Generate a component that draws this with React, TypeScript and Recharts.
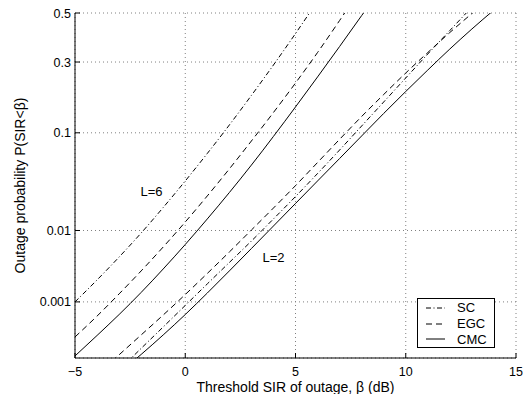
import React from 'react';
import { LineChart, Line, XAxis, YAxis, CartesianGrid, Legend, ReferenceDot } from 'recharts';

const FONT = '"Liberation Sans", Arial, Helvetica, sans-serif';

// ---- data (outage probability) ----
const betaL6SC = [-5, -4, -3, -2, -1, 0, 1, 2, 3, 4, 5, 6];
const pL6SC = [0.001, 0.00215, 0.00452, 0.0093, 0.01874, 0.0362, 0.0665, 0.1155, 0.189, 0.289, 0.413, 0.551];

const betaL6EGC = [-5, -4, -3, -2, -1, 0, 1, 2, 3, 4, 5, 6, 7, 8];
const pL6EGC = [2.65e-4, 5.94e-4, 1.33e-3, 2.9e-3, 6.16e-3, 0.01269, 0.0252, 0.0477, 0.0855, 0.1436, 0.2269, 0.3363, 0.468, 0.6075];

const betaL6CMC = [-5, -4, -3, -2, -1, 0, 1, 2, 3, 4, 5, 6, 7, 8, 9];
const pL6CMC = [1.22e-4, 2.81e-4, 6.29e-4, 1.4e-3, 3.09e-3, 6.64e-3, 0.0138, 0.0274, 0.0519, 0.0934, 0.1575, 0.247, 0.36, 0.489, 0.62];

const betaL2SC = [-3, -2, -1, 0, 1, 2, 3, 4, 5, 6, 7, 8, 9, 10, 11, 12, 13];
const pL2SC = [6.7e-5, 1.67e-4, 3.92e-4, 8.8e-4, 1.88e-3, 3.81e-3, 7.36e-3, 0.0138, 0.0248, 0.043, 0.0714, 0.1134, 0.1706, 0.2436, 0.3305, 0.4258, 0.5256];

const betaL2EGC = [-4, -3, -2, -1, 0, 1, 2, 3, 4, 5, 6, 7, 8, 9, 10, 11, 12, 13, 14];
const pL2EGC = [5.4e-5, 1.28e-4, 2.87e-4, 6.18e-4, 1.3e-3, 2.67e-3, 5.29e-3, 0.01013, 0.01848, 0.0324, 0.0549, 0.0883, 0.1342, 0.1917, 0.2605, 0.3363, 0.4174, 0.4979, 0.578];

const betaL2CMC = [-3, -2, -1, 0, 1, 2, 3, 4, 5, 6, 7, 8, 9, 10, 11, 12, 13, 14, 15];
const pL2CMC = [5.9e-5, 1.3e-4, 2.87e-4, 6.29e-4, 1.37e-3, 2.9e-3, 5.88e-3, 0.01135, 0.0208, 0.0362, 0.0598, 0.0942, 0.1413, 0.2006, 0.271, 0.3501, 0.4321, 0.5128, 0.589];

const xTicks = [-5, 0, 5, 10, 15];
const xTickLabels = ['\u22125', '0', '5', '10', '15'];
const yTickP = [0.001, 0.01, 0.1, 0.3, 0.5];
const yTickLabels = ['0.001', '0.01', '0.1', '0.3', '0.5'];
const yBottomP = 1.12e-4;
const yTopP = 0.5;

const legendNames = ['SC', 'EGC', 'CMC'];

// ---- normal probability (probit) axis transform ----
function probit(p: number): number {
  const a = [-3.969683028665376e1, 2.209460984245205e2, -2.759285104469687e2, 1.38357751867269e2, -3.066479806614716e1, 2.506628277459239];
  const b = [-5.447609879822406e1, 1.615858368580409e2, -1.556989798598866e2, 6.680131188771972e1, -1.328068155288572e1];
  const c = [-7.784894002430293e-3, -3.223964580411365e-1, -2.400758277161838, -2.549732539343734, 4.374664141464968, 2.938163982698783];
  const d = [7.784695709041462e-3, 3.224671290700398e-1, 2.445134137142996, 3.754408661907416];
  const pLow = 0.02425;
  const pHigh = 1 - pLow;
  if (p < pLow) {
    const q = Math.sqrt(-2 * Math.log(p));
    return (((((c[0] * q + c[1]) * q + c[2]) * q + c[3]) * q + c[4]) * q + c[5]) / ((((d[0] * q + d[1]) * q + d[2]) * q + d[3]) * q + 1);
  }
  if (p <= pHigh) {
    const q = p - 0.5;
    const r = q * q;
    return ((((((a[0] * r + a[1]) * r + a[2]) * r + a[3]) * r + a[4]) * r + a[5]) * q) / (((((b[0] * r + b[1]) * r + b[2]) * r + b[3]) * r + b[4]) * r + 1);
  }
  const q = Math.sqrt(-2 * Math.log(1 - p));
  return -(((((c[0] * q + c[1]) * q + c[2]) * q + c[3]) * q + c[4]) * q + c[5]) / ((((d[0] * q + d[1]) * q + d[2]) * q + d[3]) * q + 1);
}

const build = (xs: number[], ps: number[]) => xs.map((x, i) => ({ x, y: probit(ps[i]) }));

const dL6SC = build(betaL6SC, pL6SC);
const dL6EGC = build(betaL6EGC, pL6EGC);
const dL6CMC = build(betaL6CMC, pL6CMC);
const dL2SC = build(betaL2SC, pL2SC);
const dL2EGC = build(betaL2EGC, pL2EGC);
const dL2CMC = build(betaL2CMC, pL2CMC);

const yTicks = yTickP.map(probit);
const yDomain = [probit(yBottomP), probit(yTopP)];

const DASH: Record<string, string | undefined> = {
  SC: '5 2.5 1 2.5',
  EGC: '6 4',
  CMC: undefined,
};

const TICK_LEN = 5;
const FS = 12.5;
const FS_LABEL = 14;

const yLabelOf = (v: number) => {
  let best = 0;
  for (let i = 0; i < yTicks.length; i++) if (Math.abs(yTicks[i] - v) < Math.abs(yTicks[best] - v)) best = i;
  return yTickLabels[best];
};
const xLabelOf = (v: number) => {
  const i = xTicks.indexOf(v);
  return i >= 0 ? xTickLabels[i] : String(v);
};

const BottomTick = (props: any) => {
  const { x, y, payload } = props;
  return (
    <g>
      <line x1={x} y1={y} x2={x} y2={y - TICK_LEN} stroke="#000" />
      <text x={x} y={y + 17.5} textAnchor="middle" fontSize={FS} fontFamily={FONT} fill="#000">
        {xLabelOf(payload.value)}
      </text>
    </g>
  );
};
const TopTick = (props: any) => {
  const { x, y } = props;
  return <line x1={x} y1={y} x2={x} y2={y + TICK_LEN} stroke="#000" />;
};
const LeftTick = (props: any) => {
  const { x, y, payload } = props;
  return (
    <g>
      <line x1={x} y1={y} x2={x + TICK_LEN} y2={y} stroke="#000" />
      <text x={x - 4} y={y} dy="0.36em" textAnchor="end" fontSize={FS} fontFamily={FONT} fill="#000">
        {yLabelOf(payload.value)}
      </text>
    </g>
  );
};
const RightTick = (props: any) => {
  const { x, y } = props;
  return <line x1={x} y1={y} x2={x - TICK_LEN} y2={y} stroke="#000" />;
};

const LegendBox = () => (
  <div
    style={{
      border: '1px solid #000',
      background: '#fff',
      width: 78,
      height: 50,
      paddingTop: 1,
      boxSizing: 'border-box',
      fontFamily: FONT,
      fontSize: 13,
      color: '#000',
    }}
  >
    {legendNames.map((n) => (
      <div key={n} style={{ display: 'flex', alignItems: 'center', height: 15.7 }}>
        <svg width={19} height={4} style={{ marginLeft: 8, display: 'block' }}>
          <line x1={0} y1={2} x2={19} y2={2} stroke="#000" strokeWidth={1} strokeDasharray={DASH[n]} />
        </svg>
        <span style={{ marginLeft: 12, lineHeight: '15px' }}>{n}</span>
      </div>
    ))}
  </div>
);

// annotation positions (data coordinates)
const labelL6 = { beta: -1.53, p: 0.0285 };
const labelL2 = { beta: 4.0, p: 0.0045 };

export default function App() {
  const common = { dot: false, activeDot: false, isAnimationActive: false, stroke: '#000', strokeWidth: 1, type: 'monotone' as const, dataKey: 'y' };
  return (
    <div style={{ position: 'absolute', left: 0, top: 0 }}>
      <LineChart width={526} height={394} margin={{ top: 13, right: 10, bottom: 0, left: 0 }} style={{ fontFamily: FONT }}>
        <CartesianGrid stroke="#808080" strokeDasharray="1 3" />
        <XAxis
          dataKey="x"
          type="number"
          domain={[-5, 15]}
          ticks={xTicks}
          interval={0}
          allowDataOverflow
          height={36}
          tickSize={0}
          tickMargin={0}
          tickLine={false}
          axisLine={{ stroke: '#000' }}
          tick={<BottomTick />}
          label={{ value: 'Threshold SIR of outage, \u03b2 (dB)', position: 'insideBottom', offset: 2, style: { fontSize: FS_LABEL, fill: '#000', fontFamily: FONT } }}
        />
        <XAxis
          xAxisId="top"
          orientation="top"
          dataKey="x"
          type="number"
          domain={[-5, 15]}
          ticks={xTicks}
          interval={0}
          allowDataOverflow
          height={0}
          tickSize={0}
          tickMargin={0}
          tickLine={false}
          axisLine={{ stroke: '#000' }}
          tick={<TopTick />}
        />
        <YAxis
          type="number"
          domain={yDomain}
          ticks={yTicks}
          interval={0}
          allowDataOverflow
          width={75}
          tickSize={0}
          tickMargin={0}
          tickLine={false}
          axisLine={{ stroke: '#000' }}
          tick={<LeftTick />}
          label={{ value: 'Outage probability P(SIR<\u03b2)', angle: -90, position: 'insideLeft', offset: 20, style: { textAnchor: 'middle', fontSize: FS_LABEL, fill: '#000', fontFamily: FONT } }}
        />
        <YAxis
          yAxisId="right"
          orientation="right"
          type="number"
          domain={yDomain}
          ticks={yTicks}
          interval={0}
          allowDataOverflow
          width={0}
          tickSize={0}
          tickMargin={0}
          tickLine={false}
          axisLine={{ stroke: '#000' }}
          tick={<RightTick />}
        />
        <Line {...common} data={dL6SC} name="SC" strokeDasharray={DASH.SC} />
        <Line {...common} data={dL6EGC} name="EGC" strokeDasharray={DASH.EGC} />
        <Line {...common} data={dL6CMC} name="CMC" />
        <Line {...common} data={dL2SC} name="SC L=2" strokeDasharray={DASH.SC} legendType="none" />
        <Line {...common} data={dL2EGC} name="EGC L=2" strokeDasharray={DASH.EGC} legendType="none" />
        <Line {...common} data={dL2CMC} name="CMC L=2" legendType="none" />
        <ReferenceDot
          x={labelL6.beta}
          y={probit(labelL6.p)}
          r={0}
          fill="none"
          stroke="none"
          label={{ value: 'L=6', position: 'center', fill: '#000', fontSize: 13, fontFamily: FONT }}
        />
        <ReferenceDot
          x={labelL2.beta}
          y={probit(labelL2.p)}
          r={0}
          fill="none"
          stroke="none"
          label={{ value: 'L=2', position: 'center', fill: '#000', fontSize: 13, fontFamily: FONT }}
        />
        <Legend
          layout="vertical"
          align="center"
          verticalAlign="middle"
          content={<LegendBox />}
          wrapperStyle={{ left: 417, top: 298, width: 78, height: 50, right: 'auto', bottom: 'auto' }}
        />
      </LineChart>
    </div>
  );
}
